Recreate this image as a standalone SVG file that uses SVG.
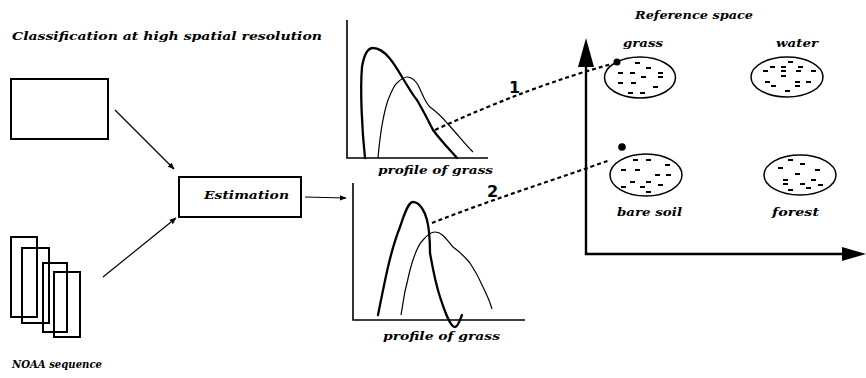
<svg xmlns="http://www.w3.org/2000/svg" width="866" height="378" viewBox="0 0 866 378">
<defs>
<marker id="ah" viewBox="0 0 10 10" refX="9" refY="5" markerWidth="7" markerHeight="7" markerUnits="userSpaceOnUse" orient="auto"><path d="M0,1 L10,5 L0,9 Z" fill="#000"/></marker>
<style>
.t{font-family:"DejaVu Serif",serif;font-weight:bold;font-style:italic;font-size:11px;fill:#000}
.box{fill:none;stroke:#000;stroke-width:2}
.ln{fill:none;stroke:#000;stroke-width:1.2}
.ax{fill:none;stroke:#000;stroke-width:1.6}
.thick{fill:none;stroke:#000;stroke-width:2.3;stroke-linecap:round}
.thin{fill:none;stroke:#000;stroke-width:1.2}
.dot{fill:none;stroke:#000;stroke-width:2.2;stroke-dasharray:4 3}
.ell{fill:none;stroke:#000;stroke-width:1.5}
.num{font-family:"DejaVu Sans",sans-serif;font-weight:bold;font-size:16px;fill:#000}
.d{stroke:#000;stroke-width:2.2}
</style>
</defs>
<rect width="866" height="378" fill="#fff"/>

<g id="title"><text class="t" x="12" y="40" textLength="310" lengthAdjust="spacingAndGlyphs">Classification at high spatial resolution</text></g>

<g id="hires"><rect class="box" x="11" y="79" width="97" height="60"/></g>

<g id="noaa">
<rect class="box" x="11" y="237" width="26" height="80"/>
<rect class="box" x="22" y="248" width="27" height="75"/>
<rect class="box" x="43" y="263" width="24" height="69"/>
<rect class="box" x="54" y="272" width="26" height="65"/>
<text class="t" x="12" y="368" textLength="90" lengthAdjust="spacingAndGlyphs">NOAA sequence</text>
</g>

<g id="estimation">
<rect class="box" x="179" y="177" width="122" height="40"/>
<text class="t" x="204" y="199" textLength="85" lengthAdjust="spacingAndGlyphs">Estimation</text>
</g>

<g id="plot1">
<path class="ax" d="M347,20 L347,158 L488,158"/>
<path class="thick" d="M365,158 C362,130 360,90 362,67 C364,55 368,48 373,48 C385,48 395,65 402,77 C410,90 414,97 417,100 C424,112 428,120 433,130 C442,142 450,150 457,158"/>
<path class="thin" d="M378,158 C380,135 383,115 388,100 C392,90 394,85 397,83 C402,78 404,77 407,77 C412,77 415,80 418,85 C423,95 425,102 430,107 C438,113 443,118 447,123 C458,135 466,145 473,152"/>
<text class="t" x="378" y="174" textLength="115" lengthAdjust="spacingAndGlyphs">profile of grass</text>
</g>

<g id="plot2">
<path class="ax" d="M353,183 L353,320 L525,320"/>
<path class="thick" d="M378,315 C382,295 385,280 388,267 C392,250 396,237 400,227 C404,215 408,202 413,202 C420,202 425,212 427,220 C430,232 430,245 430,253 C433,270 436,285 440,297 C445,312 450,327 455,327 C458,327 460,320 462,315"/>
<path class="thin" d="M401,315 C403,300 406,285 410,270 C414,255 418,245 423,240 C428,234 431,232 435,232 C443,232 448,242 453,247 C460,252 465,257 470,263 C476,272 480,280 483,287 C487,295 490,302 492,309"/>
<text class="t" x="383" y="340" textLength="117" lengthAdjust="spacingAndGlyphs">profile of grass</text>
</g>

<g id="refspace">
<text class="t" x="635" y="19" textLength="118" lengthAdjust="spacingAndGlyphs">Reference space</text>
<path d="M586,255 L586,60" stroke="#000" stroke-width="2.4" fill="none"/>
<path d="M586,38 L594,67 L578,67 Z" fill="#000"/>
<path d="M585,254 L845,254" stroke="#000" stroke-width="2.4" fill="none"/>
<path d="M866,254 L842,247 L842,261 Z" fill="#000"/>
</g>

<g id="grass">
<ellipse class="ell" cx="640" cy="77.5" rx="35.5" ry="20.5"/>
<g class="d">
<path d="M635,63h5M646,68h5M618,73h5M630,73h5M658,73h5M641,77h5M658,77h5M618,83h5M631,83h5M653,87h5M628,93h5M640,93h5"/>
</g>
<text class="t" x="623" y="47" textLength="40" lengthAdjust="spacingAndGlyphs">grass</text>
<circle cx="617" cy="62" r="3.5" fill="#000"/>
</g>

<g id="water">
<ellipse class="ell" cx="787" cy="77" rx="36" ry="20"/>
<g class="d">
<path d="M788,62h5M770,67h5M781,67h5M798,67h5M763,71h5M781,71h5M796,71h5M811,71h5M781,76h5M765,82h5M795,82h5M806,82h5M771,86h5M795,86h5M785,91h5"/>
</g>
<text class="t" x="776" y="47" textLength="42" lengthAdjust="spacingAndGlyphs">water</text>
</g>

<g id="baresoil">
<ellipse class="ell" cx="646" cy="175" rx="36" ry="21"/>
<g class="d">
<path d="M633,160h5M646,160h5M665,165h5M621,170h5M635,170h5M655,175h5M666,175h5M630,182h5M646,182h5M658,185h5M621,187h5M640,187h5M646,192h5"/>
</g>
<text class="t" x="617" y="216" textLength="65" lengthAdjust="spacingAndGlyphs">bare soil</text>
<circle cx="622" cy="147" r="3.8" fill="#000"/>
</g>

<g id="forest">
<ellipse class="ell" cx="800" cy="175" rx="36" ry="20"/>
<g class="d">
<path d="M788,160h5M800,164h5M778,168h5M815,170h5M795,174h5M783,180h5M811,180h5M783,184h5M800,184h5M818,185h5M788,190h5M806,188h5"/>
</g>
<text class="t" x="772" y="216" textLength="47" lengthAdjust="spacingAndGlyphs">forest</text>
</g>

<g id="connectors">
<line class="ln" x1="115" y1="110" x2="174" y2="169" marker-end="url(#ah)"/>
<line class="ln" x1="103" y1="277" x2="176" y2="218" marker-end="url(#ah)"/>
<line class="ln" x1="305" y1="197" x2="346" y2="198" marker-end="url(#ah)"/>
<path class="dot" d="M435,130 C500,100 560,78 612,64"/>
<path class="dot" d="M432,223 C490,200 560,178 610,160"/>
<text class="num" x="509" y="93">1</text>
<text class="num" x="487" y="197">2</text>
</g>
</svg>
